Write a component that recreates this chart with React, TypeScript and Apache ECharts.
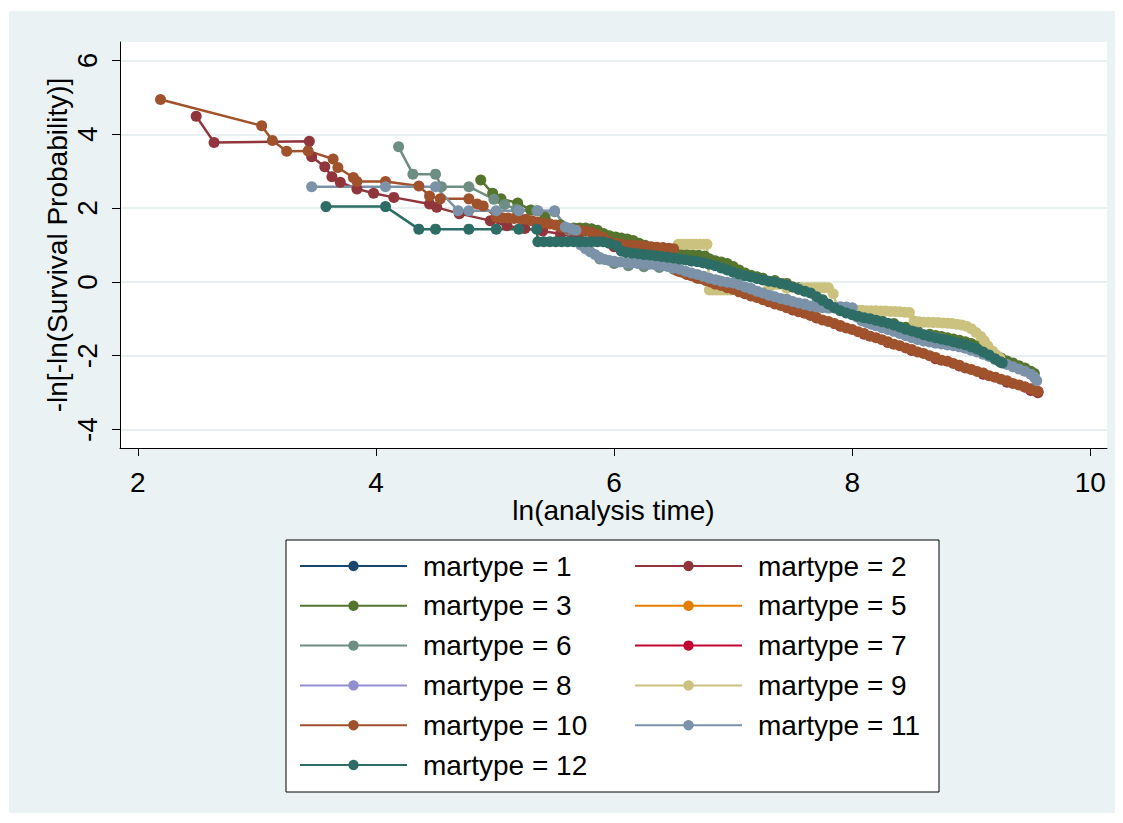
import React, { useEffect, useRef } from "react";
import * as echarts from "echarts";

// ---- Data (ln(analysis time), -ln[-ln(S)]) ----
const xTicks = [2, 4, 6, 8, 10];
const yTicks = [-4, -2, 0, 2, 4, 6];

const s1: number[][] = [
  [6.25, 0.74], [6.3, 0.73], [6.35, 0.71], [6.4, 0.69], [6.45, 0.67], [6.5, 0.65],
  [6.55, 0.62], [6.6, 0.6], [6.65, 0.57], [6.7, 0.55], [6.75, 0.52],
];
const s2: number[][] = [
  [2.49, 4.49], [2.64, 3.78], [3.44, 3.81], [3.46, 3.39], [3.57, 3.12], [3.63, 2.85],
  [3.7, 2.7], [3.84, 2.52], [3.98, 2.4], [4.15, 2.29], [4.45, 2.11], [4.51, 2.02],
  [4.7, 1.85], [4.96, 1.66], [5.1, 1.52], [5.25, 1.45], [5.4, 1.38], [5.55, 1.3],
  [5.7, 1.2], [5.85, 1.1], [6.0, 0.95], [6.15, 0.9], [6.3, 0.85], [6.45, 0.8],
  [6.55, 0.28], [6.7, 0.1], [6.9, -0.12], [7.1, -0.32], [7.3, -0.54], [7.5, -0.76],
  [7.7, -0.98], [7.9, -1.2], [8.1, -1.42], [8.3, -1.64], [8.5, -1.86], [8.7, -2.08],
  [8.9, -2.28], [9.1, -2.5], [9.3, -2.72], [9.5, -2.94], [9.56, -3.0],
];
const s3: number[][] = [
  [4.88, 2.76], [4.98, 2.4], [5.05, 2.25], [5.19, 2.14], [5.3, 1.95], [5.42, 1.75],
  [5.55, 1.55], [5.66, 1.46], [5.71, 1.46], [5.76, 1.46], [5.81, 1.44], [5.86, 1.4],
  [5.91, 1.31], [5.96, 1.25], [6.01, 1.22], [6.06, 1.19], [6.11, 1.16], [6.16, 1.12],
  [6.21, 1.05], [6.26, 0.99], [6.31, 0.94], [6.36, 0.89], [6.41, 0.84], [6.46, 0.8],
  [6.51, 0.77], [6.56, 0.75], [6.61, 0.74], [6.66, 0.73], [6.71, 0.72], [6.76, 0.7],
  [6.8, 0.63], [6.85, 0.57], [6.9, 0.54], [6.95, 0.5], [7.0, 0.42], [7.05, 0.32],
  [7.1, 0.24], [7.15, 0.18], [7.2, 0.14], [7.25, 0.1], [7.35, 0.04], [7.45, -0.04],
  [7.55, -0.16], [7.65, -0.28], [7.75, -0.48], [7.85, -0.7], [7.95, -0.8], [8.05, -0.89],
  [8.15, -0.97], [8.25, -1.05], [8.35, -1.13], [8.45, -1.23], [8.55, -1.33], [8.65, -1.42],
  [8.7, -1.45], [8.75, -1.48], [8.8, -1.51], [8.85, -1.55], [8.9, -1.58], [8.95, -1.62],
  [9.0, -1.67], [9.05, -1.73], [9.1, -1.81], [9.15, -1.89], [9.2, -1.98], [9.25, -2.06],
  [9.3, -2.14], [9.35, -2.2], [9.4, -2.27], [9.45, -2.33], [9.5, -2.42], [9.53, -2.48],
];
const s5: number[][] = [
  [7.35, 0.0], [7.4, -0.04], [7.45, -0.08], [7.5, -0.14], [7.55, -0.2],
];
const s6: number[][] = [
  [4.19, 3.66], [4.31, 2.92], [4.5, 2.92], [4.55, 2.58], [4.78, 2.58], [4.99, 2.24],
  [5.08, 2.1], [5.18, 1.97], [5.35, 1.93], [5.5, 1.9], [5.62, 1.4], [5.75, 1.0],
  [5.88, 0.62], [6.0, 0.5], [6.12, 0.44], [6.25, 0.41], [6.38, 0.39], [6.5, 0.34],
  [6.62, 0.24], [6.75, 0.13], [6.88, 0.03], [7.0, -0.05], [7.15, -0.18], [7.3, -0.34],
  [7.45, -0.47], [7.6, -0.6], [7.75, -0.68],
];
const s7: number[][] = [
  [9.45, -2.85], [9.5, -2.9], [9.53, -2.93], [9.56, -2.97],
];
const s8: number[][] = [
  [8.55, -1.38], [8.6, -1.43], [8.65, -1.47], [8.7, -1.51], [8.75, -1.55],
];
const s9: number[][] = [
  [6.54, 1.02], [6.57, 1.02], [6.6, 1.02], [6.63, 1.02], [6.66, 1.02], [6.69, 1.02],
  [6.72, 1.02], [6.75, 1.02], [6.78, 1.02], [6.8, -0.22], [6.83, -0.22], [6.86, -0.22],
  [6.89, -0.22], [6.92, -0.22], [6.95, -0.22], [6.98, -0.22], [7.02, -0.22], [7.15, -0.2],
  [7.3, -0.18], [7.45, -0.17], [7.58, -0.16], [7.62, -0.16], [7.65, -0.16], [7.68, -0.16],
  [7.71, -0.16], [7.74, -0.16], [7.77, -0.16], [7.8, -0.16], [7.84, -0.32], [7.88, -0.74],
  [7.92, -0.76], [7.96, -0.77], [8.0, -0.77], [8.04, -0.77], [8.08, -0.77], [8.12, -0.78],
  [8.16, -0.78], [8.2, -0.78], [8.24, -0.79], [8.28, -0.79], [8.32, -0.8], [8.36, -0.8],
  [8.4, -0.81], [8.44, -0.82], [8.48, -0.83], [8.52, -1.06], [8.56, -1.08], [8.6, -1.09],
  [8.64, -1.09], [8.68, -1.1], [8.72, -1.1], [8.76, -1.11], [8.8, -1.12], [8.84, -1.13],
  [8.88, -1.15], [8.92, -1.17], [8.96, -1.2], [9.0, -1.27], [9.04, -1.37], [9.08, -1.48],
  [9.11, -1.6], [9.14, -1.74], [9.18, -1.88], [9.21, -1.98], [9.24, -2.06],
];
const s10: number[][] = [
  [2.19, 4.94], [3.04, 4.23], [3.13, 3.83], [3.25, 3.54], [3.43, 3.55], [3.64, 3.33],
  [3.68, 3.1], [3.81, 2.83], [3.84, 2.72], [4.08, 2.72], [4.36, 2.6], [4.45, 2.33],
  [4.54, 2.25], [4.78, 2.25], [4.85, 2.11], [4.9, 2.06], [5.01, 1.75], [5.06, 1.74],
  [5.11, 1.73], [5.16, 1.72], [5.21, 1.71], [5.26, 1.7], [5.31, 1.66], [5.36, 1.62],
  [5.41, 1.59], [5.46, 1.57], [5.51, 1.54], [5.56, 1.48], [5.61, 1.45], [5.66, 1.42],
  [5.71, 1.4], [5.76, 1.38], [5.81, 1.34], [5.86, 1.28], [5.91, 1.2], [5.96, 1.1],
  [6.01, 1.05], [6.06, 1.02], [6.11, 1.0], [6.16, 0.99], [6.21, 0.98], [6.26, 0.97],
  [6.31, 0.95], [6.36, 0.94], [6.41, 0.93], [6.46, 0.91], [6.5, 0.9], [6.53, 0.3],
  [6.57, 0.26], [6.61, 0.2], [6.65, 0.17], [6.69, 0.12], [6.73, 0.09], [6.77, 0.04],
  [6.81, 0.0], [6.85, -0.06], [6.9, -0.1], [6.95, -0.16], [7.0, -0.2], [7.05, -0.27],
  [7.1, -0.31], [7.15, -0.38], [7.2, -0.42], [7.25, -0.48], [7.3, -0.53], [7.35, -0.6],
  [7.4, -0.64], [7.45, -0.7], [7.5, -0.74], [7.55, -0.81], [7.6, -0.85], [7.65, -0.91],
  [7.7, -0.96], [7.75, -1.03], [7.8, -1.07], [7.85, -1.13], [7.9, -1.18], [7.95, -1.25],
  [8.0, -1.29], [8.05, -1.35], [8.1, -1.4], [8.15, -1.47], [8.2, -1.51], [8.25, -1.57],
  [8.3, -1.62], [8.35, -1.69], [8.4, -1.73], [8.45, -1.79], [8.5, -1.83], [8.55, -1.9],
  [8.6, -1.94], [8.65, -2.0], [8.7, -2.05], [8.75, -2.12], [8.8, -2.15], [8.85, -2.21],
  [8.9, -2.26], [8.95, -2.33], [9.0, -2.37], [9.05, -2.43], [9.1, -2.47], [9.15, -2.54],
  [9.2, -2.58], [9.25, -2.64], [9.3, -2.68], [9.35, -2.75], [9.4, -2.79], [9.45, -2.85],
  [9.5, -2.9], [9.53, -2.93], [9.56, -2.97],
];
const s11: number[][] = [
  [3.46, 2.58], [4.08, 2.58], [4.5, 2.58], [4.69, 1.93], [4.78, 1.93], [5.01, 1.93],
  [5.2, 1.93], [5.36, 1.93], [5.5, 1.93], [5.59, 1.49], [5.64, 1.44], [5.68, 1.4],
  [5.72, 1.0], [5.76, 0.9], [5.8, 0.82], [5.84, 0.74], [5.88, 0.66], [5.92, 0.61],
  [5.96, 0.58], [6.0, 0.56], [6.05, 0.54], [6.1, 0.52], [6.15, 0.51], [6.2, 0.5],
  [6.25, 0.49], [6.3, 0.48], [6.35, 0.46], [6.4, 0.44], [6.45, 0.42], [6.5, 0.38],
  [6.55, 0.34], [6.6, 0.29], [6.65, 0.24], [6.7, 0.2], [6.75, 0.15], [6.8, 0.1],
  [6.85, 0.06], [6.9, 0.02], [6.95, -0.01], [7.0, -0.03], [7.05, -0.08], [7.1, -0.14],
  [7.15, -0.19], [7.2, -0.25], [7.25, -0.3], [7.3, -0.36], [7.35, -0.4], [7.4, -0.45],
  [7.45, -0.49], [7.5, -0.53], [7.55, -0.57], [7.6, -0.61], [7.65, -0.65], [7.7, -0.68],
  [7.75, -0.7], [7.8, -0.71], [7.85, -0.69], [7.9, -0.67], [7.95, -0.68], [8.0, -0.7],
  [8.04, -0.95], [8.08, -1.05], [8.12, -1.1], [8.16, -1.15], [8.2, -1.19], [8.25, -1.24],
  [8.3, -1.29], [8.35, -1.34], [8.4, -1.4], [8.45, -1.46], [8.5, -1.51], [8.55, -1.56],
  [8.6, -1.6], [8.65, -1.63], [8.7, -1.66], [8.75, -1.68], [8.8, -1.71], [8.85, -1.73],
  [8.9, -1.76], [8.95, -1.8], [9.0, -1.85], [9.05, -1.9], [9.1, -1.96], [9.15, -2.02],
  [9.2, -2.1], [9.25, -2.18], [9.3, -2.24], [9.35, -2.3], [9.4, -2.36], [9.45, -2.42],
  [9.5, -2.5], [9.53, -2.58], [9.55, -2.68],
];
const s12: number[][] = [
  [3.58, 2.04], [4.08, 2.04], [4.36, 1.43], [4.5, 1.43], [4.78, 1.43], [5.01, 1.43],
  [5.2, 1.43], [5.35, 1.43], [5.36, 1.09], [5.41, 1.09], [5.46, 1.09], [5.51, 1.09],
  [5.56, 1.09], [5.61, 1.09], [5.66, 1.09], [5.71, 1.09], [5.76, 1.09], [5.81, 1.09],
  [5.86, 1.09], [5.91, 1.09], [5.96, 1.05], [6.02, 0.98], [6.06, 0.84], [6.1, 0.8],
  [6.15, 0.78], [6.2, 0.76], [6.25, 0.74], [6.3, 0.73], [6.35, 0.71], [6.4, 0.69],
  [6.45, 0.67], [6.5, 0.65], [6.55, 0.62], [6.6, 0.6], [6.65, 0.57], [6.7, 0.55],
  [6.75, 0.52], [6.8, 0.48], [6.85, 0.44], [6.9, 0.38], [6.95, 0.32], [7.0, 0.26],
  [7.05, 0.21], [7.1, 0.17], [7.15, 0.13], [7.2, 0.09], [7.25, 0.05], [7.3, 0.02],
  [7.35, 0.0], [7.4, -0.04], [7.45, -0.08], [7.5, -0.14], [7.55, -0.2], [7.6, -0.25],
  [7.65, -0.3], [7.7, -0.4], [7.75, -0.5], [7.8, -0.6], [7.85, -0.7], [7.9, -0.78],
  [7.95, -0.84], [8.0, -0.89], [8.05, -0.93], [8.1, -0.97], [8.15, -1.0], [8.2, -1.04],
  [8.25, -1.08], [8.3, -1.12], [8.35, -1.17], [8.4, -1.22], [8.45, -1.28], [8.5, -1.33],
  [8.55, -1.38], [8.6, -1.43], [8.65, -1.47], [8.7, -1.51], [8.75, -1.55], [8.8, -1.58],
  [8.85, -1.62], [8.9, -1.66], [8.95, -1.7], [9.0, -1.76], [9.05, -1.82], [9.1, -1.9],
  [9.15, -1.98], [9.2, -2.08], [9.24, -2.16], [9.26, -2.2],
];

const seriesNames = [
  "martype = 1", "martype = 2", "martype = 3", "martype = 5", "martype = 6", "martype = 7",
  "martype = 8", "martype = 9", "martype = 10", "martype = 11", "martype = 12",
];
const seriesData = [s1, s2, s3, s5, s6, s7, s8, s9, s10, s11, s12];
const seriesColors = [
  "#1A476F", "#90353B", "#55752F", "#E37E00", "#6E8E84", "#C10534",
  "#938DD2", "#CAC27E", "#A0522D", "#7B92A8", "#2D6D66",
];
const legendLeft = ["martype = 1", "martype = 3", "martype = 6", "martype = 8", "martype = 10", "martype = 12"];
const legendRight = ["martype = 2", "martype = 5", "martype = 7", "martype = 9", "martype = 11"];

const FONT = '"Liberation Sans", Arial, Helvetica, sans-serif';

export default function App() {
  const ref = useRef<HTMLDivElement>(null);
  useEffect(() => {
    if (!ref.current) return;
    const chart = echarts.init(ref.current, null, { renderer: "svg" });
    const legendCommon = {
      orient: "vertical" as const,
      top: 541,
      padding: 0,
      itemGap: 11.8,
      itemWidth: 107,
      itemHeight: 13,
      selectedMode: false,
      textStyle: {
        fontFamily: FONT,
        fontSize: 28,
        lineHeight: 28,
        color: "#000",
        padding: [0, 0, 0, 11],
      },
    };
    chart.setOption({
      animation: false,
      backgroundColor: "#EAF2F3",
      textStyle: { fontFamily: FONT },
      grid: {
        left: 111,
        top: 31,
        right: 8,
        bottom: 365,
        show: true,
        backgroundColor: "#FFFFFF",
        borderWidth: 0,
      },
      graphic: [
        {
          type: "rect",
          shape: { x: 277, y: 529, width: 653, height: 252 },
          style: { fill: "#FFFFFF", stroke: "#000000", lineWidth: 1 },
          z: 0,
        },
      ],
      legend: [
        { ...legendCommon, left: 290, data: legendLeft },
        { ...legendCommon, left: 625, data: legendRight },
      ],
      xAxis: {
        type: "value",
        min: 1.85,
        max: 10.14,
        name: "ln(analysis time)",
        nameLocation: "middle",
        nameGap: 50,
        nameMoveOverlap: false,
        nameTextStyle: { fontFamily: FONT, fontSize: 28, lineHeight: 24, color: "#000" },
        axisLine: { show: true, onZero: false, lineStyle: { color: "#000", width: 1 } },
        axisTick: { show: true, length: 8, customValues: xTicks, lineStyle: { color: "#000", width: 1 } },
        axisLabel: { customValues: xTicks, fontFamily: FONT, fontSize: 28, lineHeight: 24, color: "#000", margin: 22 },
        splitLine: { show: false },
      },
      yAxis: {
        type: "value",
        min: -4.5,
        max: 6.5,
        name: "-ln[-ln(Survival Probability)]",
        nameLocation: "middle",
        nameGap: 51,
        nameMoveOverlap: false,
        nameTextStyle: { fontFamily: FONT, fontSize: 28, lineHeight: 24, color: "#000" },
        axisLine: { show: true, onZero: false, lineStyle: { color: "#000", width: 1 } },
        axisTick: { show: true, length: 8, customValues: yTicks, lineStyle: { color: "#000", width: 1 } },
        axisLabel: { customValues: yTicks, rotate: 90, fontFamily: FONT, fontSize: 28, lineHeight: 24, color: "#000", margin: 21 },
        splitLine: { show: true, lineStyle: { color: "#E8F0F2", width: 2 } },
      },
      series: seriesData.map((d, i) => ({
        name: seriesNames[i],
        type: "line",
        data: d,
        symbol: "circle",
        symbolSize: 11,
        color: seriesColors[i],
        itemStyle: { color: seriesColors[i] },
        lineStyle: { color: seriesColors[i], width: 2.5 },
        emphasis: { disabled: true },
        silent: true,
      })),
    });
    return () => chart.dispose();
  }, []);
  return (
    <div style={{ position: "fixed", left: 0, top: 0, width: 1123, height: 823, background: "#FFFFFF" }}>
      <div ref={ref} style={{ position: "absolute", left: 9, top: 11, width: 1106, height: 802 }} />
    </div>
  );
}
